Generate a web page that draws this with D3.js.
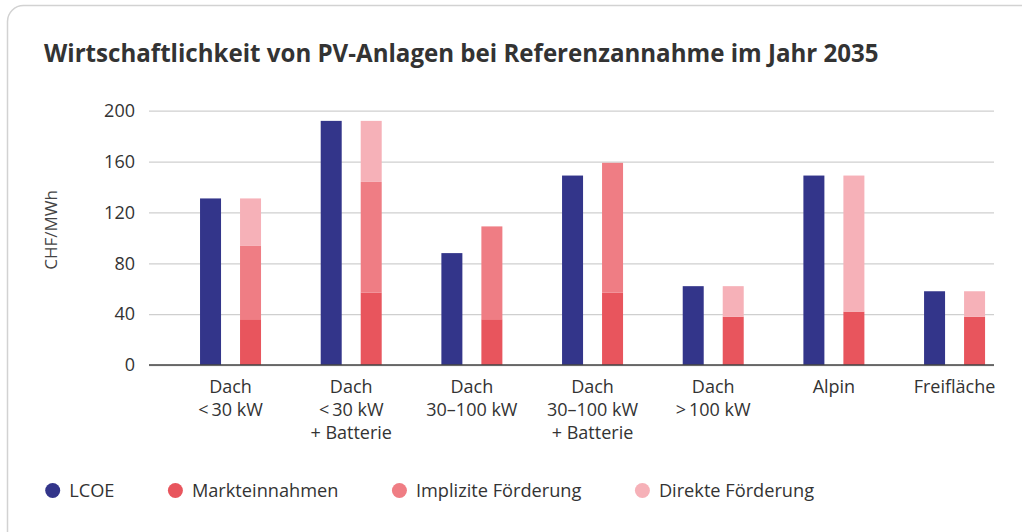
<!DOCTYPE html>
<html>
<head>
<meta charset="utf-8">
<script src="https://cdn.jsdelivr.net/npm/d3@7"></script>
<style>
  body { margin: 0; background: #fff; }
  svg { display: block; font-family: "Open Sans", sans-serif; }
</style>
</head>
<body>
<svg id="chart" width="1022" height="532"></svg>
<script>
// chart data
let categories = [
  ["Dach", "<\u200930 kW"],
  ["Dach", "<\u200930 kW", "+ Batterie"],
  ["Dach", "30–100 kW"],
  ["Dach", "30–100 kW", "+ Batterie"],
  ["Dach", ">\u2009100 kW"],
  ["Alpin"],
  ["Freifläche"]
]
let lcoe      = [131, 192, 88, 149, 62, 149, 58]
let markt     = [36, 57, 36, 57, 38, 42, 38]
let implizit  = [58, 87, 73, 102, 0, 0, 0]
let direkt    = [37, 48, 0, 0, 24, 107, 20]
let yTicks    = [0, 40, 80, 120, 160, 200]
let seriesNames  = ["LCOE", "Markteinnahmen", "Implizite Förderung", "Direkte Förderung"]
let seriesColors = ["#33358a", "#e8555d", "#ef7d84", "#f6b1b8"]

let svg = d3.select("#chart")

// card
svg.append("rect")
  .attr("x", 7.5).attr("y", 5.5)
  .attr("width", 1040).attr("height", 560)
  .attr("rx", 16)
  .attr("fill", "#fff")
  .attr("stroke", "#d2d2d2")
  .attr("stroke-width", 1.5)

svg.append("text")
  .attr("x", 44).attr("y", 62)
  .attr("font-size", 24.1).attr("font-weight", 700)
  .attr("fill", "#333")
  .text("Wirtschaftlichkeit von PV-Anlagen bei Referenzannahme im Jahr 2035")

// scales
let keys = categories.map((c, i) => i)
let xScale = d3.scaleBand().domain(keys).range([170.2, 1014.9])
let inner = d3.scaleBand().domain(["a", "b"]).range([-30.5, 30.5])
  .paddingInner(0.475).paddingOuter(0)
let yScale = d3.scaleLinear().domain([0, 200]).range([365, 110.7])

let gridLeft = 149, gridRight = 994

// grid + y labels
let yAxis = svg.append("g")
  .attr("transform", `translate(${gridLeft},0)`)
  .call(d3.axisLeft(yScale).tickValues(yTicks)
    .tickSize(-(gridRight - gridLeft)).tickPadding(14))
yAxis.select(".domain").remove()
yAxis.selectAll("line").attr("stroke", "#cfcfcf").attr("stroke-width", 1.3)
yAxis.selectAll("text")
  .attr("font-family", "Open Sans").attr("font-size", 18).attr("fill", "#333")

svg.append("text")
  .attr("transform", "translate(57,230) rotate(-90)")
  .attr("text-anchor", "middle")
  .attr("font-size", 17).attr("fill", "#444")
  .text("CHF/MWh")

// stacked revenue bars
let stackData = keys.map(i => ({ i: i, m: markt[i], im: implizit[i], d: direkt[i] }))
let stacked = d3.stack().keys(["m", "im", "d"])(stackData)

let cx = i => xScale(i) + xScale.bandwidth() / 2

svg.append("g").selectAll("rect")
  .data(keys)
  .join("rect")
  .attr("x", i => cx(i) + inner("a"))
  .attr("width", inner.bandwidth())
  .attr("y", i => yScale(lcoe[i]))
  .attr("height", i => yScale(0) - yScale(lcoe[i]))
  .attr("fill", seriesColors[0])

stacked.forEach((layer, k) => {
  svg.append("g").selectAll("rect")
    .data(layer.filter(d => d[1] > d[0]))
    .join("rect")
    .attr("x", d => cx(d.data.i) + inner("b"))
    .attr("width", inner.bandwidth())
    .attr("y", d => yScale(d[1]))
    .attr("height", d => yScale(d[0]) - yScale(d[1]))
    .attr("fill", seriesColors[k + 1])
})

// baseline
svg.append("line")
  .attr("x1", gridLeft).attr("x2", gridRight)
  .attr("y1", yScale(0)).attr("y2", yScale(0))
  .attr("stroke", "#444").attr("stroke-width", 1.5)

// x labels
let xl = svg.append("g").selectAll("text")
  .data(keys)
  .join("text")
  .attr("x", i => cx(i))
  .attr("y", 392.5)
  .attr("text-anchor", "middle")
  .attr("font-size", 18).attr("fill", "#333")
xl.selectAll("tspan")
  .data(i => categories[i].map(t => ({ t: t, x: cx(i) })))
  .join("tspan")
  .attr("x", d => d.x)
  .attr("dy", (d, j) => j == 0 ? 0 : 23)
  .text(d => d.t)

// legend
let lx = 52.7
seriesNames.forEach((name, k) => {
  svg.append("circle")
    .attr("cx", lx).attr("cy", 490.5).attr("r", 7.5)
    .attr("fill", seriesColors[k])
  let t = svg.append("text")
    .attr("x", lx + 16.5).attr("y", 497)
    .attr("font-size", 18.2).attr("fill", "#333")
    .text(name)
  lx = lx + 16.5 + t.node().getComputedTextLength() + 61
})
</script>
</body>
</html>
